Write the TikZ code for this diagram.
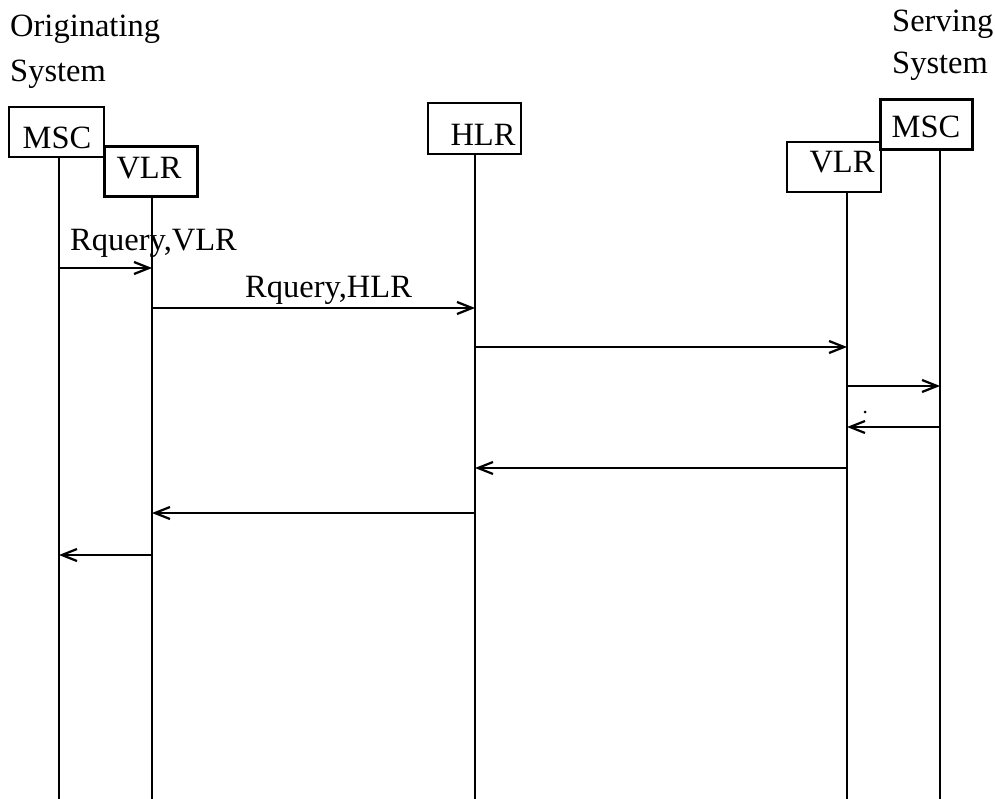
\documentclass[tikz,border=0pt]{standalone}
\usepackage{fontspec}
\setmainfont{Liberation Serif}
\usetikzlibrary{arrows.meta}
\begin{document}
\begin{tikzpicture}[x=1pt,y=-1pt,
  every node/.style={font=\fontsize{32.5}{38}\selectfont, inner sep=0pt},
  entity/.style={draw, line width=2.2pt, rectangle, fill=white},
  lifeline/.style={line width=2.3pt},
  msg/.style={line width=2.2pt, -{Straight Barb[length=15pt,width=12pt,line width=2.2pt]}}]
\useasboundingbox (0,0) rectangle (995,799);
% header texts
\node[anchor=base west] (orig1) at (10,37) {Originating};
\node[anchor=base west] (orig2) at (10,82) {System};
\node[anchor=base west] (serv1) at (892,32) {Serving};
\node[anchor=base west] (serv2) at (892,74) {System};
% lifelines
\coordinate (l1t) at (59,157);  \coordinate (l1b) at (59,799);
\coordinate (l2t) at (152,197); \coordinate (l2b) at (152,799);
\coordinate (l3t) at (475,154); \coordinate (l3b) at (475,799);
\coordinate (l4t) at (847,192); \coordinate (l4b) at (847,799);
\coordinate (l5t) at (940,150); \coordinate (l5b) at (940,799);
\draw[lifeline] (l1t) -- (l1b);
\draw[lifeline] (l2t) -- (l2b);
\draw[lifeline] (l3t) -- (l3b);
\draw[lifeline] (l4t) -- (l4b);
\draw[lifeline] (l5t) -- (l5b);
% entity boxes
\node[entity, minimum width=95, minimum height=50] (msc1box) at (56.5,132) {};
\node[entity, minimum width=93, minimum height=50] (vlr1box) at (151,171.5) {};
\node[entity, minimum width=93, minimum height=51] (hlrbox) at (474.5,128.5) {};
\node[entity, minimum width=94, minimum height=50] (vlr2box) at (834,167) {};
\node[entity, minimum width=92, minimum height=50] (msc2box) at (926.5,124.5) {};
\node (msc1) at (57,138) {MSC};
\node (vlr1) at (149,168) {VLR};
\node (hlr) at (483,135) {HLR};
\node (vlr2) at (842,162) {VLR};
\node (msc2) at (926,127) {MSC};
% messages
\draw[msg] (l1t |- 0,268) -- (l2t |- 0,268);
\node[anchor=base west] (lab1) at (70,251) {Rquery,VLR};
\draw[msg] (l2t |- 0,308) -- (l3t |- 0,308);
\node[anchor=base west] (lab2) at (245,298) {Rquery,HLR};
\draw[msg] (l3t |- 0,347) -- (l4t |- 0,347);
\draw[msg] (l4t |- 0,386) -- (l5t |- 0,386);
\draw[msg] (l5t |- 0,427) -- (l4t |- 0,427);
\draw[msg] (l4t |- 0,468) -- (l3t |- 0,468);
\draw[msg] (l3t |- 0,513) -- (l2t |- 0,513);
\draw[msg] (l2t |- 0,555) -- (l1t |- 0,555);
\fill (865,412) circle (1.5);
\end{tikzpicture}
\end{document}
